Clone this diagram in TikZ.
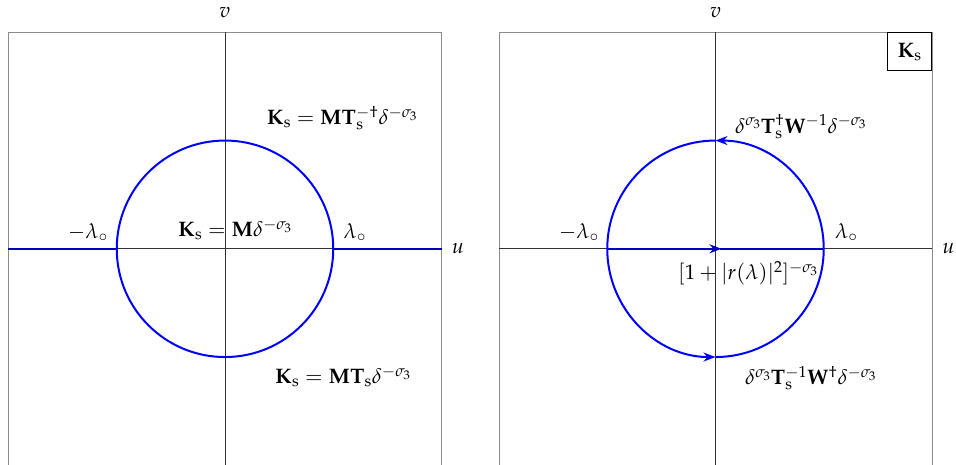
\documentclass[tikz,border=0pt]{standalone}
\usepackage{mathpazo}
\usetikzlibrary{arrows.meta}
\begin{document}
\begin{tikzpicture}[x=1pt,y=1pt,
  framebox/.style={draw=black!45,line width=1pt},
  axisline/.style={draw=black!80,line width=0.9pt},
  contour/.style={draw=blue,line width=2pt},
  realcut/.style={draw=blue!75!black,line width=2pt},
  tip/.style={-{Stealth[length=12pt,width=9pt]}},
  lbl/.style={font=\fontsize{21}{25}\selectfont,inner sep=0pt}]
\useasboundingbox (-225,-216.2) rectangle (731,248.8);
% ---------- left panel ----------
\begin{scope}
  \draw[framebox] (-216.5,-217) -- (-216.5,216.5) -- (216.5,216.5) -- (216.5,-217);
  \draw[axisline] (-216.5,0) -- (216.5,0);
  \draw[axisline] (0,-217) -- (0,216.5);
  \draw[realcut] (-216.5,0) -- (-108.25,0);
  \draw[realcut] (108.25,0) -- (216.5,0);
  \draw[contour] (0,0) circle[radius=108.25];
  \node[lbl,anchor=base] (vL) at (0,231) {$v$};
  \node[lbl,anchor=base] (uL) at (233,-5) {$u$};
  \node[lbl,anchor=base east] (mlL) at (-117,10) {$-\lambda_\circ$};
  \node[lbl,anchor=base west] (plL) at (118.5,10) {$\lambda_\circ$};
  \node[lbl,anchor=base west] (kc) at (-47,12) {$\mathbf{K}_\mathrm{s}=\mathbf{M}\delta^{-\sigma_3}$};
  \node[lbl,anchor=base west] (kt) at (41.7,124) {$\mathbf{K}_\mathrm{s}=\mathbf{M}\mathbf{T}_\mathrm{s}^{-\dagger}\delta^{-\sigma_3}$};
  \node[lbl,anchor=base west] (kb) at (50,-135) {$\mathbf{K}_\mathrm{s}=\mathbf{M}\mathbf{T}_\mathrm{s}\delta^{-\sigma_3}$};
\end{scope}
% ---------- right panel ----------
\begin{scope}[shift={(490.5,0)}]
  \draw[framebox] (-216.5,-217) -- (-216.5,216.5) -- (216.5,216.5) -- (216.5,-217);
  \draw[axisline] (-216.5,0) -- (216.5,0);
  \draw[axisline] (0,-217) -- (0,216.5);
  \draw[realcut,tip] (-108.25,0) -- (6,0);
  \draw[realcut] (4,0) -- (108.25,0);
  \draw[contour,tip] (108.25,0) arc[start angle=0,end angle=90,radius=108.25];
  \draw[contour] (0,108.25) arc[start angle=90,end angle=180,radius=108.25];
  \draw[contour,tip] (-108.25,0) arc[start angle=180,end angle=270,radius=108.25];
  \draw[contour] (0,-108.25) arc[start angle=270,end angle=360,radius=108.25];
  \node[lbl,anchor=base] (vR) at (0,231) {$v$};
  \node[lbl,anchor=base] (uR) at (233,-5) {$u$};
  \node[lbl,anchor=base east] (mlR) at (-116.5,10) {$-\lambda_\circ$};
  \node[lbl,anchor=base west] (plR) at (119.5,10) {$\lambda_\circ$};
  \node[lbl,anchor=base west] (rt) at (19.5,115.5) {$\delta^{\sigma_3}\mathbf{T}_\mathrm{s}^{\dagger}\mathbf{W}^{-1}\delta^{-\sigma_3}$};
  \node[lbl,anchor=base west] (rm) at (-37.5,-31) {$[1+|r(\lambda)|^2]^{-\sigma_3}$};
  \node[lbl,anchor=base west] (rb) at (29.5,-136) {$\delta^{\sigma_3}\mathbf{T}_\mathrm{s}^{-1}\mathbf{W}^{\dagger}\delta^{-\sigma_3}$};
  \node[draw=black,line width=0.8pt,anchor=north east,minimum width=44pt,minimum height=38pt,
        font=\fontsize{21}{25}\selectfont,inner sep=0pt] (kbox) at (216.5,216.5) {$\mathbf{K}_\mathrm{s}$};
\end{scope}
\end{tikzpicture}
\end{document}
